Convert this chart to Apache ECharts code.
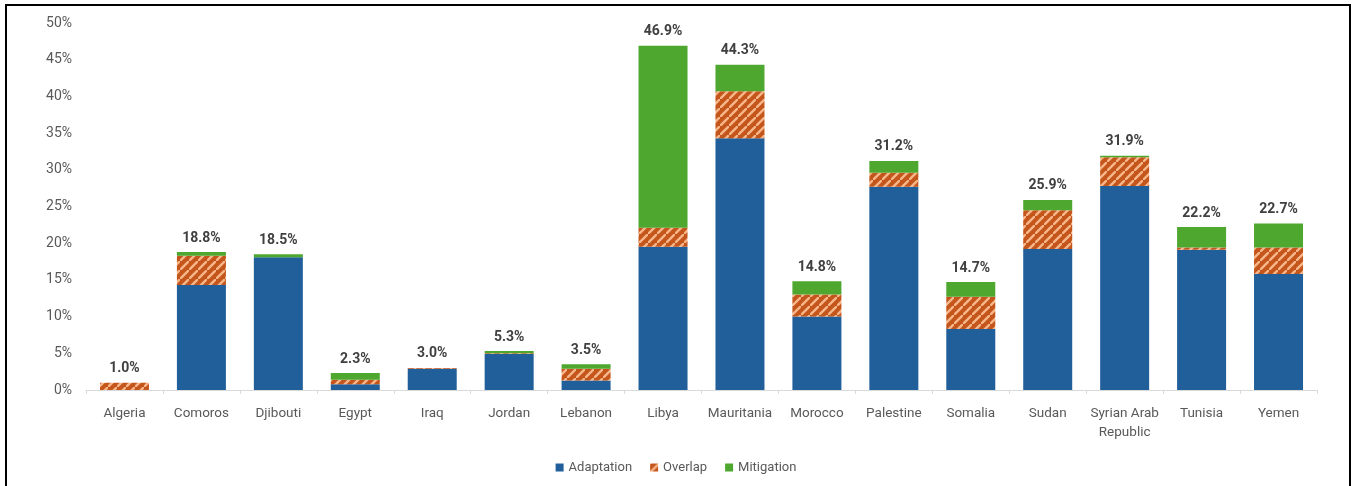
<!DOCTYPE html>
<html>
<head>
<meta charset="utf-8">
<script src="https://cdn.jsdelivr.net/npm/echarts@6/dist/echarts.min.js"></script>
<style>
html,body{margin:0;padding:0;background:#fff;}
#chart{width:1352px;height:486px;}
</style>
</head>
<body>
<div id="chart"></div>
<script>
const categories = ['Algeria','Comoros','Djibouti','Egypt','Iraq','Jordan','Lebanon','Libya','Mauritania','Morocco','Palestine','Somalia','Sudan','Syrian Arab\nRepublic','Tunisia','Yemen'];
const adaptation = [0.0, 14.3, 18.1, 0.8, 2.9, 4.9, 1.3, 19.5, 34.3, 10.0, 27.7, 8.3, 19.2, 27.8, 19.1, 15.8];
const overlap    = [1.0, 4.0, 0.0, 0.6, 0.1, 0.1, 1.6, 2.6, 6.4, 3.0, 1.9, 4.4, 5.3, 3.9, 0.3, 3.6];
const mitigation = [0.0, 0.5, 0.4, 0.9, 0.0, 0.3, 0.6, 24.8, 3.6, 1.8, 1.6, 2.0, 1.4, 0.2, 2.8, 3.3];
const totals     = [1.0, 18.8, 18.5, 2.3, 3.0, 5.3, 3.5, 46.9, 44.3, 14.8, 31.2, 14.7, 25.9, 31.9, 22.2, 22.7];
const yTicks = [0, 5, 10, 15, 20, 25, 30, 35, 40, 45, 50];

// striped pattern for Overlap
const T = 9;
const tile = document.createElement('canvas');
tile.width = T; tile.height = T;
const g = tile.getContext('2d');
g.fillStyle = '#C4561B';
g.fillRect(0, 0, T, T);
g.strokeStyle = '#F7B68A';
g.lineWidth = 2.4;
g.beginPath();
g.moveTo(-1, T + 1); g.lineTo(T + 1, -1);
g.moveTo(-T - 1, 1); g.lineTo(1, -T - 1);
g.moveTo(T - 1, 2 * T + 1); g.lineTo(2 * T + 1, T - 1);
g.stroke();
const stripe = { image: tile, repeat: 'repeat' };

const chart = echarts.init(document.getElementById('chart'));
const font = 'Roboto, "Noto Sans", sans-serif';
chart.setOption({
  animation: false,
  textStyle: { fontFamily: font },
  graphic: [{
    type: 'polyline',
    shape: { points: [[6, 490], [6, 5], [1350, 5], [1350, 490]] },
    style: { stroke: '#000', lineWidth: 2, fill: null }
  }],
  grid: { left: 86, right: 35, top: 23, bottom: 96 },
  legend: {
    bottom: 7,
    left: 'center',
    itemWidth: 8,
    itemHeight: 8,
    itemGap: 18,
    icon: 'rect',
    textStyle: { color: '#595959', fontSize: 13, fontFamily: font },
    data: ['Adaptation', 'Overlap', 'Mitigation']
  },
  xAxis: {
    type: 'category',
    data: categories,
    axisLine: { lineStyle: { color: '#D9D9D9' } },
    axisTick: { show: true, lineStyle: { color: '#D9D9D9' }, length: 4 },
    axisLabel: { color: '#595959', fontSize: 13.5, margin: 14, interval: 0, lineHeight: 19 }
  },
  yAxis: {
    type: 'value',
    min: 0, max: 50, interval: 5,
    splitLine: { show: false },
    axisLine: { show: false },
    axisTick: { show: false },
    axisLabel: { color: '#595959', fontSize: 14, margin: 14, formatter: v => v + '%' }
  },
  series: [
    { name: 'Adaptation', type: 'bar', stack: 's', barWidth: 49, data: adaptation, itemStyle: { color: '#215F9A' } },
    { name: 'Overlap', type: 'bar', stack: 's', data: overlap, itemStyle: { color: stripe } },
    { name: 'Mitigation', type: 'bar', stack: 's', data: mitigation, itemStyle: { color: '#4EA72E' } },
    {
      name: 'Total', type: 'bar', stack: 's', data: totals.map(() => 0),
      itemStyle: { color: 'transparent' },
      label: {
        show: true, position: 'top', distance: 7,
        color: '#404040', fontWeight: 'bold', fontSize: 14,
        formatter: p => totals[p.dataIndex].toFixed(1) + '%'
      }
    }
  ]
});
</script>
</body>
</html>
